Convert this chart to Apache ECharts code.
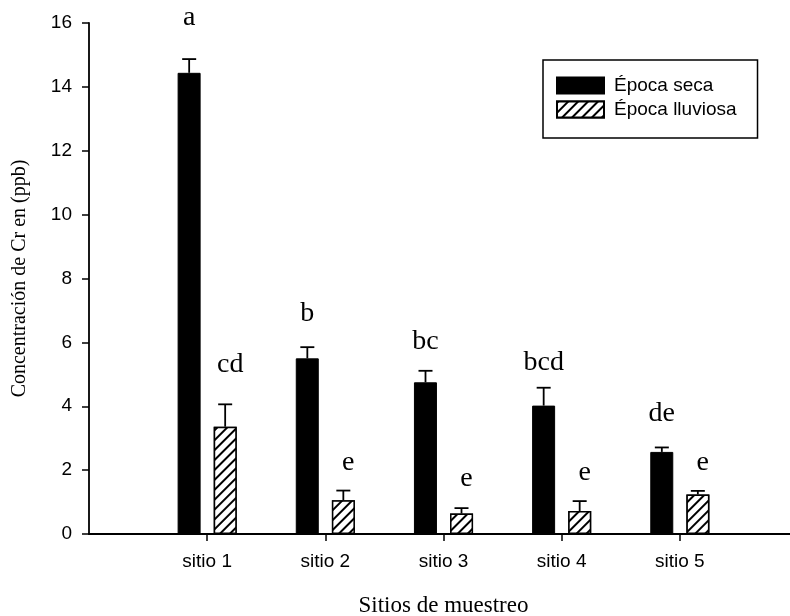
<!DOCTYPE html>
<html>
<head>
<meta charset="utf-8">
<script src="https://cdn.jsdelivr.net/npm/echarts@6/dist/echarts.min.js"></script>
<style>html,body{margin:0;padding:0;background:#fff}#c{width:790px;height:616px}</style>
</head>
<body>
<div id="c"></div>
<script>
// ---- data ----
var categories = ['sitio 1', 'sitio 2', 'sitio 3', 'sitio 4', 'sitio 5'];
var seriesNames = ['Época seca', 'Época lluviosa'];
var secaValues = [14.44, 5.50, 4.75, 4.02, 2.57];
var secaErrors = [0.43, 0.35, 0.36, 0.56, 0.14];
var lluviosaValues = [3.36, 1.06, 0.64, 0.72, 1.24];
var lluviosaErrors = [0.70, 0.30, 0.17, 0.31, 0.11];
var secaLetters = ['a', 'b', 'bc', 'bcd', 'de'];
var secaLetterY = [16.18, 6.89, 6.01, 5.38, 3.76];
var lluviosaLetters = ['cd', 'e', 'e', 'e', 'e'];
var lluviosaLetterY = [5.29, 2.25, 1.72, 1.92, 2.22];
var yTicks = [0, 2, 4, 6, 8, 10, 12, 14, 16];

// ---- build ----
function pts(vals) { return vals.map(function (v, i) { return [i + 1, v]; }); }
function errPts(vals, errs) { return vals.map(function (v, i) { return [i + 1, v, v + errs[i]]; }); }

var BAR_OFF = 18;
function errRender(off) {
  return function (params, api) {
    var top = api.coord([api.value(0), api.value(2)]);
    var base = api.coord([api.value(0), api.value(1)]);
    var x = top[0] + off;
    var cap = 7;
    return {
      type: 'group',
      children: [
        { type: 'line', shape: { x1: x, y1: base[1], x2: x, y2: top[1] }, style: { stroke: '#000', lineWidth: 1.8 } },
        { type: 'line', shape: { x1: x - cap, y1: top[1], x2: x + cap, y2: top[1] }, style: { stroke: '#000', lineWidth: 1.8 } }
      ]
    };
  };
}
function letterRender(off, letters) {
  return function (params, api) {
    var p = api.coord([api.value(0), api.value(1)]);
    return {
      type: 'text',
      x: p[0] + off, y: p[1],
      style: {
        text: letters[params.dataIndex],
        fontFamily: '"Liberation Serif", "Times New Roman", serif',
        fontSize: 28, fill: '#000', align: 'center', verticalAlign: 'middle'
      }
    };
  };
}

var hatch = {
  symbol: 'rect', symbolSize: 1, color: '#000', backgroundColor: '#fff',
  dashArrayX: [1, 0], dashArrayY: [2, 5], rotation: -Math.PI / 4
};

var chart = echarts.init(document.getElementById('c'), null, { renderer: 'canvas' });
chart.setOption({
  animation: false,
  backgroundColor: '#fff',
  grid: { left: 89, top: 23, width: 709, bottom: 82, containLabel: false, outerBoundsMode: 'none' },
  legend: {
    orient: 'vertical', left: 543, top: 60,
    padding: [16, 21, 19, 13],
    itemWidth: 47, itemHeight: 16, itemGap: 5,
    borderColor: '#000', borderWidth: 1.5,
    data: [{ name: seriesNames[0], icon: 'rect' }, { name: seriesNames[1], icon: 'rect' }],
    textStyle: { fontFamily: '"Liberation Sans", Arial, sans-serif', fontSize: 19, color: '#000', padding: [0, 0, 0, 5], lineHeight: 16 }
  },
  xAxis: {
    type: 'value', min: 0, max: 6, interval: 1,
    name: 'Sitios de muestreo', nameLocation: 'middle', nameGap: 60,
    nameTextStyle: { fontFamily: '"Liberation Serif", "Times New Roman", serif', fontSize: 23, color: '#000' },
    axisLine: { show: true, lineStyle: { color: '#000', width: 1.8 } },
    axisTick: { show: true, length: 7, lineStyle: { color: '#000', width: 1.5 } },
    axisLabel: {
      fontFamily: '"Liberation Sans", Arial, sans-serif', fontSize: 19, color: '#000', margin: 18,
      showMinLabel: false, showMaxLabel: false,
      formatter: function (v) { return (v >= 1 && v <= categories.length && v % 1 === 0) ? categories[v - 1] : ''; }
    },
    splitLine: { show: false }
  },
  yAxis: {
    type: 'value', min: yTicks[0], max: yTicks[yTicks.length - 1], interval: 2,
    name: 'Concentración de Cr en (ppb)', nameLocation: 'middle', nameGap: 59, nameRotate: 90,
    nameTextStyle: { fontFamily: '"Liberation Serif", "Times New Roman", serif', fontSize: 20, color: '#000' },
    axisLine: { show: true, lineStyle: { color: '#000', width: 1.8 } },
    axisTick: { show: true, length: 7, lineStyle: { color: '#000', width: 1.5 } },
    axisLabel: { fontFamily: '"Liberation Sans", Arial, sans-serif', fontSize: 19, color: '#000', margin: 17 },
    splitLine: { show: false }
  },
  series: [
    {
      name: seriesNames[0], type: 'bar', data: pts(secaValues),
      barWidth: 23, barGap: '57%',
      itemStyle: { color: '#000', borderColor: '#000', borderWidth: 1 }
    },
    {
      name: seriesNames[1], type: 'bar', data: pts(lluviosaValues),
      barWidth: 23, barGap: '57%',
      itemStyle: { color: '#fff', borderColor: '#000', borderWidth: 1.5, decal: hatch }
    },
    { type: 'custom', renderItem: errRender(-BAR_OFF), data: errPts(secaValues, secaErrors), z: 3, silent: true },
    { type: 'custom', renderItem: errRender(BAR_OFF), data: errPts(lluviosaValues, lluviosaErrors), z: 3, silent: true },
    { type: 'custom', renderItem: letterRender(-BAR_OFF, secaLetters), data: pts(secaLetterY), clip: false, z: 4, silent: true },
    { type: 'custom', renderItem: letterRender(BAR_OFF + 5, lluviosaLetters), data: pts(lluviosaLetterY), clip: false, z: 4, silent: true }
  ]
});
</script>
</body>
</html>
